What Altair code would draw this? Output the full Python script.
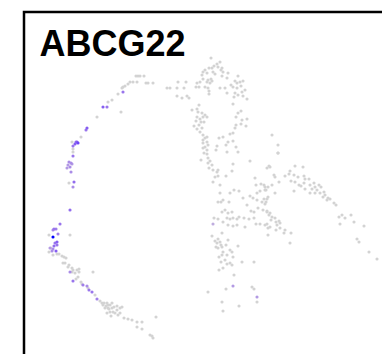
import altair as alt
import pandas as pd

# Embedding coordinates (horizontal, vertical-down)
gray_x = [
    138, 136, 130, 133, 137, 128, 125, 123, 122, 146, 148, 118, 112, 108, 121, 97, 81, 72, 73, 73, 69, 70, 49,
    140, 144, 153,
    53, 57, 59, 62, 64, 66, 63, 65, 68, 69, 72, 73, 77, 79, 75, 72, 79, 93, 78, 76, 81, 82, 88, 95, 100, 102,
    103, 107, 110, 108, 105, 112, 113, 117, 120, 122, 118, 115, 110, 124, 128, 132, 137, 142, 137, 142, 156,
    150, 153, 152, 120, 107, 111, 104, 106, 109, 114, 117, 112, 108, 51, 49,
    211, 220, 217, 214, 209, 212, 218, 222, 205, 203, 207, 213, 221, 223, 215, 222, 228, 202, 203, 200, 208,
    211, 207, 210, 212, 197, 196, 199, 208, 205, 209, 209, 227, 231, 235, 238, 237, 240, 243, 233, 237, 241,
    245, 242, 235, 238, 243, 247, 234, 227, 225, 220, 167, 170, 178, 177, 184, 186, 177, 182, 187, 189,
    199, 197, 192, 198, 202, 205, 207, 203, 197, 200, 196, 201, 204, 199, 194, 202, 197, 200, 203, 205, 207,
    203, 207, 203, 208, 205, 203, 207, 204, 207, 208, 210, 208, 212, 209, 213, 217, 218,
    233, 238, 241, 236, 247, 242, 236, 241, 246, 235, 233, 230, 223, 219, 228, 233, 226, 217, 236, 216, 227,
    238, 201, 233, 250, 232, 267, 272, 278, 278, 270,
    215, 218, 213, 226, 255, 220, 234, 230, 239, 220, 218, 221, 223, 229, 243, 250, 253, 257, 260, 265, 256,
    261, 266, 257, 262, 267, 265, 247, 251, 254, 258, 263, 267, 225, 222, 228, 232, 227, 230, 233, 237, 239,
    244, 249, 254, 256, 260, 265, 268, 214, 218, 223, 228, 233, 237, 245,
    222, 212, 215, 218, 220, 217, 221, 216, 218, 222, 226, 228, 230, 232, 227, 233, 222, 223, 219, 225, 221,
    230, 227, 223, 219, 232, 238, 242, 254, 234, 226, 252, 254, 208, 222, 239, 223, 257,
    278, 269, 295, 303, 290, 274, 275, 285, 289, 294, 298, 304, 305, 309, 279, 291, 295, 299, 301, 304, 310,
    314, 315, 312, 317, 319, 321, 315, 320, 324, 325, 323, 328, 330, 327, 334, 336, 294, 305, 310, 264, 268,
    272, 265, 275, 268, 264, 266,
    339, 342, 345, 351, 340, 354, 364, 357, 359, 369, 377,
    267, 269, 270, 272, 271, 275, 276, 279, 280, 277, 267, 270, 276, 280, 285, 284, 291, 268, 290,
]
gray_y = [
    76, 76, 82, 82, 82, 84, 86, 87, 88, 83, 83, 94, 100, 102, 112, 117, 137, 142, 149, 152, 183, 235, 235,
    76, 76, 83,
    255, 254, 254, 256, 257, 258, 263, 263, 267, 265, 268, 270, 270, 272, 273, 272, 269, 272, 277, 279, 282,
    284, 288, 295, 301, 303, 305, 303, 305, 308, 308, 308, 312, 310, 308, 307, 315, 313, 312, 318, 319, 320,
    322, 322, 327, 329, 317, 335, 338, 336, 313, 313, 316, 303, 306, 309, 307, 306, 303, 305, 248, 252,
    58, 62, 64, 66, 68, 68, 67, 68, 70, 72, 73, 72, 70, 72, 74, 76, 73, 75, 79, 82, 80, 79, 82, 83, 81, 83,
    87, 87, 88, 87, 91, 94, 78, 85, 81, 76, 83, 82, 81, 87, 88, 86, 90, 92, 93, 95, 96, 99, 97, 93, 88, 88,
    88, 88, 82, 88, 88, 82, 96, 98, 96, 98,
    105, 109, 110, 112, 113, 115, 117, 117, 117, 119, 121, 122, 122, 125, 126, 128, 129, 132, 135, 138, 137,
    140, 142, 143, 145, 147, 148, 150, 153, 154, 158, 161, 163, 165, 168, 170, 172, 170,
    104, 113, 111, 117, 119, 120, 125, 124, 126, 128, 133, 134, 137, 138, 142, 141, 145, 146, 147, 150, 152,
    152, 160, 164, 161, 171, 168, 135, 145, 153, 167,
    177, 176, 182, 176, 178, 185, 190, 193, 191, 193, 202, 202, 200, 202, 198, 196, 198, 193, 191, 187, 185,
    184, 190, 200, 202, 199, 204, 205, 211, 212, 208, 210, 211, 210, 212, 213, 212, 218, 219, 218, 219, 217,
    218, 219, 218, 224, 224, 225, 228, 218, 219, 222, 225, 226, 225, 227,
    233, 236, 241, 239, 242, 243, 245, 247, 248, 247, 245, 240, 250, 252, 255, 257, 255, 252, 257, 260, 262,
    263, 264, 268, 270, 265, 246, 262, 262, 275, 289, 287, 289, 292, 302, 306, 311, 302,
    153, 166, 166, 167, 171, 175, 177, 176, 174, 175, 177, 176, 179, 179, 182, 181, 182, 185, 186, 183, 185,
    183, 187, 189, 190, 185, 187, 193, 193, 192, 195, 197, 198, 199, 200, 203, 205, 191, 189, 193, 185, 187,
    185, 190, 193, 197, 199, 202,
    217, 215, 218, 215, 224, 222, 226, 239, 242, 252, 259,
    212, 215, 213, 217, 220, 218, 222, 221, 223, 225, 224, 227, 230, 228, 230, 233, 233, 235, 243,
]

expr_x = [123, 103, 107, 87, 86, 77, 78, 75, 73, 76, 73, 69, 71, 68, 70, 67, 72, 71, 74, 73, 70, 60, 54,
          53, 56, 58, 53, 57, 55, 54, 57, 53, 56, 52, 50, 70, 73, 83, 87, 89, 92, 97, 213, 233, 257]
expr_y = [92, 107, 107, 128, 130, 142, 143, 144, 146, 142, 156, 162, 163, 165, 167, 168, 164, 172, 182, 187,
          210, 224, 229, 230, 229, 234, 237, 242, 243, 246, 245, 249, 251, 251, 248, 272, 281, 285, 286, 290,
          292, 299, 224, 286, 297]
expr_v = [2, 2.5, 2, 2.5, 2, 2.5, 3, 2.5, 2, 2, 2, 1.5, 1.5, 1.2, 1.5, 1.2, 1.2, 1.5, 2.2, 1.5, 2.2, 2, 2,
          1.5, 1.8, 1.8, 4, 2.5, 2, 2.2, 2, 1.5, 2.5, 1.5, 1.2, 1.5, 2, 1.8, 1.5, 2, 2, 1.8, 0.8, 1.2, 1.2]

title_text = "ABCG22"

n = min(len(gray_x), len(gray_y))
df = pd.DataFrame({
    "UMAP_1": list(gray_x[:n]) + expr_x,
    "UMAP_2": list(gray_y[:n]) + expr_y,
    "expr": [0.0] * n + expr_v,
})

LEFT, TOP = 24, 12
OVER = 20  # the panel runs past the right and bottom edges of the page
W, H = 382 - LEFT + OVER, 354 - TOP + OVER
xs = alt.Scale(domain=[LEFT, LEFT + W], nice=False, zero=False)
ys = alt.Scale(domain=[TOP, TOP + H], nice=False, zero=False, reverse=True)

points = alt.Chart(df).mark_circle(size=10, opacity=1, clip=False).encode(
    x=alt.X("UMAP_1:Q", scale=xs, axis=None),
    y=alt.Y("UMAP_2:Q", scale=ys, axis=None),
    color=alt.Color("expr:Q", scale=alt.Scale(domain=[0, 4], range=["#d3d3d3", "#0000ff"],
                                               interpolate="lab"), legend=None),
    order=alt.Order("expr:Q", sort="ascending"),
)

title = alt.Chart(pd.DataFrame({"t": [title_text]})).mark_text(
    font="Liberation Sans", fontWeight="bold", fontSize=36, align="left", baseline="alphabetic",
    color="black",
).encode(text="t:N", x=alt.value(15.5), y=alt.value(43.5))

chart = alt.layer(points, title).properties(
    width=W, height=H,
    autosize=alt.AutoSizeParams(type="none"),
    padding={"left": LEFT, "top": TOP, "right": -OVER, "bottom": -OVER},
    background="white",
).configure_view(stroke="black", strokeWidth=2.5)

chart.save("out.html", embed_options={"renderer": "svg", "actions": False})
